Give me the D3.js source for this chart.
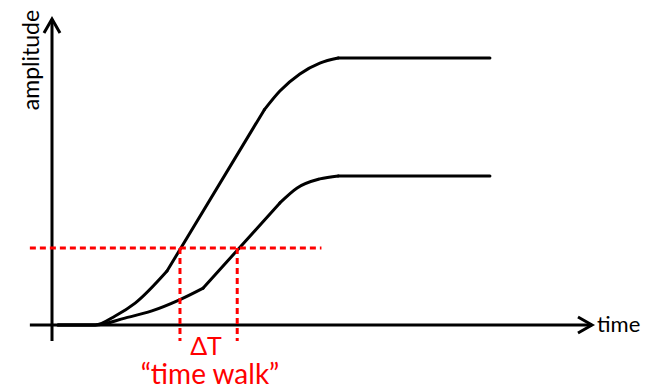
<!DOCTYPE html>
<html>
<head>
<meta charset="utf-8">
<script src="https://cdn.jsdelivr.net/npm/d3@7"></script>
<style>
  body { margin: 0; background: #fff; }
  text { font-family: Lato, "Open Sans", sans-serif; }
</style>
</head>
<body>
<div id="chart"></div>
<script>
// signal shapes, [time, amplitude] in arbitrary units (0..100)
// each pulse is drawn as pieces so the kinks between them stay sharp
var bigRise   = [[1.1, 0], [8.0, 0], [11.7, 3], [15.4, 7.3], [21.3, 18]];
var bigRamp   = [[21.3, 18], [39.3, 71.7]];
var bigKnee   = [[39.3, 71.7], [42.2, 78], [45.9, 83.7], [49.6, 87.3], [53, 89]];
var bigFlat   = [[53, 89], [81.1, 89]];

var smallRise = [[1.1, 0], [8.0, 0], [13.5, 2.3], [18.5, 4.7], [23.5, 8.3], [28, 12.3]];
var smallRamp = [[28, 12.3], [42.2, 40.7]];
var smallKnee = [[42.2, 40.7], [45.4, 45.7], [49.6, 48.7], [53, 49.7]];
var smallFlat = [[53, 49.7], [81.1, 49.7]];

var threshold = 25.7;
var crossTimes = [23.7, 34.3];   // where each pulse passes the threshold

var width = 645, height = 389;

var x = d3.scaleLinear().domain([0, 100]).range([52, 592]);
var y = d3.scaleLinear().domain([0, 100]).range([325, 25]);

var svg = d3.select("#chart").append("svg")
    .attr("width", width)
    .attr("height", height);

var line = d3.line()
    .x(function(d) { return x(d[0]); })
    .y(function(d) { return y(d[1]); })
    .curve(d3.curveMonotoneX);

// axes with open arrow heads
var xAxisEnd = 100, yAxisEnd = 102;
svg.append("path")
    .attr("d", "M" + x(-4.1) + "," + y(0) + "H" + x(xAxisEnd))
    .style("stroke", "black").style("stroke-width", 3).style("fill", "none");
svg.append("path")
    .attr("d", "M" + (x(xAxisEnd) - 14) + "," + (y(0) - 8) + "L" + x(xAxisEnd) + "," + y(0) +
               "L" + (x(xAxisEnd) - 14) + "," + (y(0) + 8))
    .style("stroke", "black").style("stroke-width", 3).style("fill", "none");

svg.append("path")
    .attr("d", "M" + x(0) + "," + y(-5.3) + "V" + y(yAxisEnd))
    .style("stroke", "black").style("stroke-width", 3).style("fill", "none");
svg.append("path")
    .attr("d", "M" + (x(0) - 8) + "," + (y(yAxisEnd) + 14) + "L" + x(0) + "," + y(yAxisEnd) +
               "L" + (x(0) + 8) + "," + (y(yAxisEnd) + 14))
    .style("stroke", "black").style("stroke-width", 3).style("fill", "none");

// pulses
var pieces = [bigRise, bigRamp, bigKnee, bigFlat, smallRise, smallRamp, smallKnee, smallFlat];
svg.append("g")
    .selectAll("path")
    .data(pieces)
    .enter().append("path")
      .attr("d", line)
      .style("fill", "none")
      .style("stroke", "black")
      .style("stroke-width", 3)
      .style("stroke-linecap", "round");

// threshold and time walk markers
svg.append("line")
    .attr("x1", x(-4.1)).attr("x2", x(49.9))
    .attr("y1", y(threshold)).attr("y2", y(threshold))
    .style("stroke", "red").style("stroke-width", 3)
    .style("stroke-dasharray", "6,4");

svg.selectAll(".walk")
    .data(crossTimes)
    .enter().append("line")
      .attr("class", "walk")
      .attr("x1", function(d) { return x(d); })
      .attr("x2", function(d) { return x(d); })
      .attr("y1", y(threshold)).attr("y2", y(-5.3))
      .style("stroke", "red").style("stroke-width", 3)
      .style("stroke-dasharray", "6,4");

// labels
svg.append("text")
    .attr("transform", "translate(39,60) rotate(-90)")
    .attr("text-anchor", "middle")
    .style("font-size", "23px")
    .text("amplitude");

svg.append("text")
    .attr("x", 597).attr("y", 332)
    .style("font-size", "22px")
    .text("time");

svg.append("text")
    .attr("x", 206).attr("y", 355)
    .attr("text-anchor", "middle")
    .style("font-size", "25px")
    .style("fill", "red")
    .text("ΔT");

svg.append("text")
    .attr("x", 210).attr("y", 384)
    .attr("text-anchor", "middle")
    .style("font-size", "28px")
    .style("fill", "red")
    .text("“time walk”");
</script>
</body>
</html>
